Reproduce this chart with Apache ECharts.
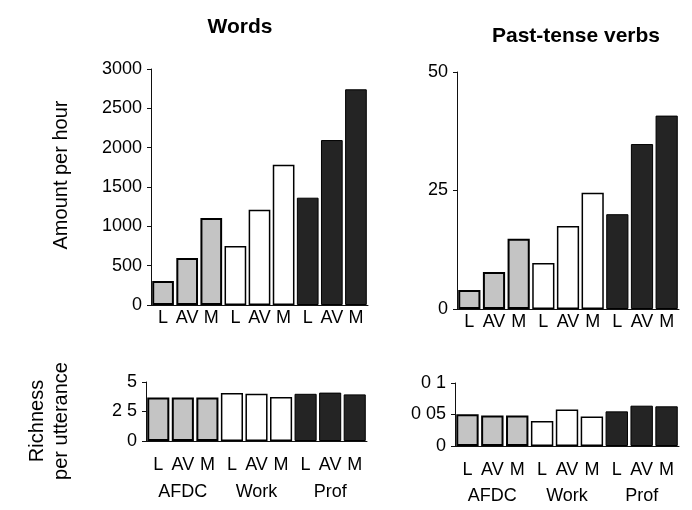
<!DOCTYPE html>
<html><head><meta charset="utf-8">
<script src="https://cdn.jsdelivr.net/npm/echarts@6/dist/echarts.min.js"></script>
<style>html,body{margin:0;padding:0;background:#fff}#c{width:692px;height:510px}</style>
</head><body><div id="c"></div><script>
const groups = ['AFDC', 'Work', 'Prof'];
const subLabels = ['L', 'AV', 'M', 'L', 'AV', 'M', 'L', 'AV', 'M'];
const wordsPerHour = [305, 597, 1106, 750, 1211, 1784, 1364, 2097, 2742];
const pastTensePerHour = [4.0, 7.8, 14.8, 9.7, 17.5, 24.5, 20.0, 34.8, 40.8];
const wordsRichness = [3.68, 3.68, 3.68, 4.07, 4.0, 3.73, 4.0, 4.1, 3.95];
const pastTenseRichness = [0.0505, 0.0485, 0.0485, 0.0395, 0.058, 0.047, 0.055, 0.064, 0.063];
const wordsTickLabels = ['0', '500', '1000', '1500', '2000', '2500', '3000'];
const pastTickLabels = ['0', '25', '50'];
const richWordsTickLabels = ['0', '2 5', '5'];
const richPastTickLabels = ['0', '0 05', '0 1'];

const FONT = 'Liberation Sans, Arial, sans-serif';
const fills = ['#c4c4c4', '#ffffff', '#242424'];
const borders = [2, 1.5, 1];

function items(vals) {
  return vals.map((v, i) => {
    const g = Math.floor(i / 3);
    return { value: v, itemStyle: { color: fills[g], borderColor: '#000', borderWidth: borders[g] } };
  });
}

const grids = [
  { left: 151, top: 69, width: 217, height: 236 },
  { left: 457, top: 72, width: 222, height: 237 },
  { left: 146, top: 382, width: 221, height: 59 },
  { left: 455, top: 383, width: 224, height: 63 }
];

const axisLine = { show: true, lineStyle: { color: '#111', width: 1 } };
const labelStyle = { color: '#000', fontFamily: FONT, fontSize: 18 };

const xAxes = [];
grids.forEach((g, k) => {
  const bottomPanel = k >= 2;
  xAxes.push({
    type: 'category', gridIndex: k, data: subLabels,
    axisLine: axisLine, axisTick: { show: false },
    axisLabel: Object.assign({ margin: bottomPanel ? 15 : 4, interval: 0 }, labelStyle)
  });
  if (bottomPanel) {
    xAxes.push({
      type: 'category', gridIndex: k, data: groups, position: 'bottom',
      axisLine: { show: false }, axisTick: { show: false },
      axisLabel: Object.assign({ margin: k === 2 ? 42 : 41, interval: 0 }, labelStyle)
    });
  }
});

function yAxis(k, max, interval, labels) {
  return {
    type: 'value', gridIndex: k, min: 0, max: max, interval: interval,
    splitLine: { show: false },
    axisLine: axisLine, axisTick: { show: true, length: 4, lineStyle: { color: '#111' } },
    axisLabel: Object.assign({ margin: 9, formatter: (v, i) => labels[i] }, labelStyle)
  };
}
const yAxes = [
  yAxis(0, 3000, 500, wordsTickLabels),
  yAxis(1, 50, 25, pastTickLabels),
  yAxis(2, 5, 2.5, richWordsTickLabels),
  yAxis(3, 0.1, 0.05, richPastTickLabels)
];

const panels = [wordsPerHour, pastTensePerHour, wordsRichness, pastTenseRichness];
const xIdx = [0, 1, 2, 4];
const series = panels.map((vals, k) => ({
  type: 'bar', xAxisIndex: xIdx[k], yAxisIndex: k, data: items(vals),
  barCategoryGap: '10%', animation: false
}));

const chart = echarts.init(document.getElementById('c'));
chart.setOption({
  backgroundColor: '#fff',
  animation: false,
  title: [
    { text: 'Words', left: 235, top: 12, textAlign: 'center',
      textStyle: { fontFamily: FONT, fontWeight: 'bold', fontSize: 21, color: '#000' } },
    { text: 'Past-tense verbs', left: 571, top: 21, textAlign: 'center',
      textStyle: { fontFamily: FONT, fontWeight: 'bold', fontSize: 21, color: '#000' } }
  ],
  grid: grids,
  xAxis: xAxes,
  yAxis: yAxes,
  series: series,
  graphic: [
    { type: 'text', x: 61, y: 175, rotation: Math.PI / 2,
      style: { text: 'Amount per hour', font: '20px ' + FONT, fill: '#000', align: 'center', verticalAlign: 'middle' } },
    { type: 'text', x: 37, y: 421, rotation: Math.PI / 2,
      style: { text: 'Richness', font: '20px ' + FONT, fill: '#000', align: 'center', verticalAlign: 'middle' } },
    { type: 'text', x: 61, y: 421, rotation: Math.PI / 2,
      style: { text: 'per utterance', font: '20px ' + FONT, fill: '#000', align: 'center', verticalAlign: 'middle' } }
  ]
});
</script></body></html>
